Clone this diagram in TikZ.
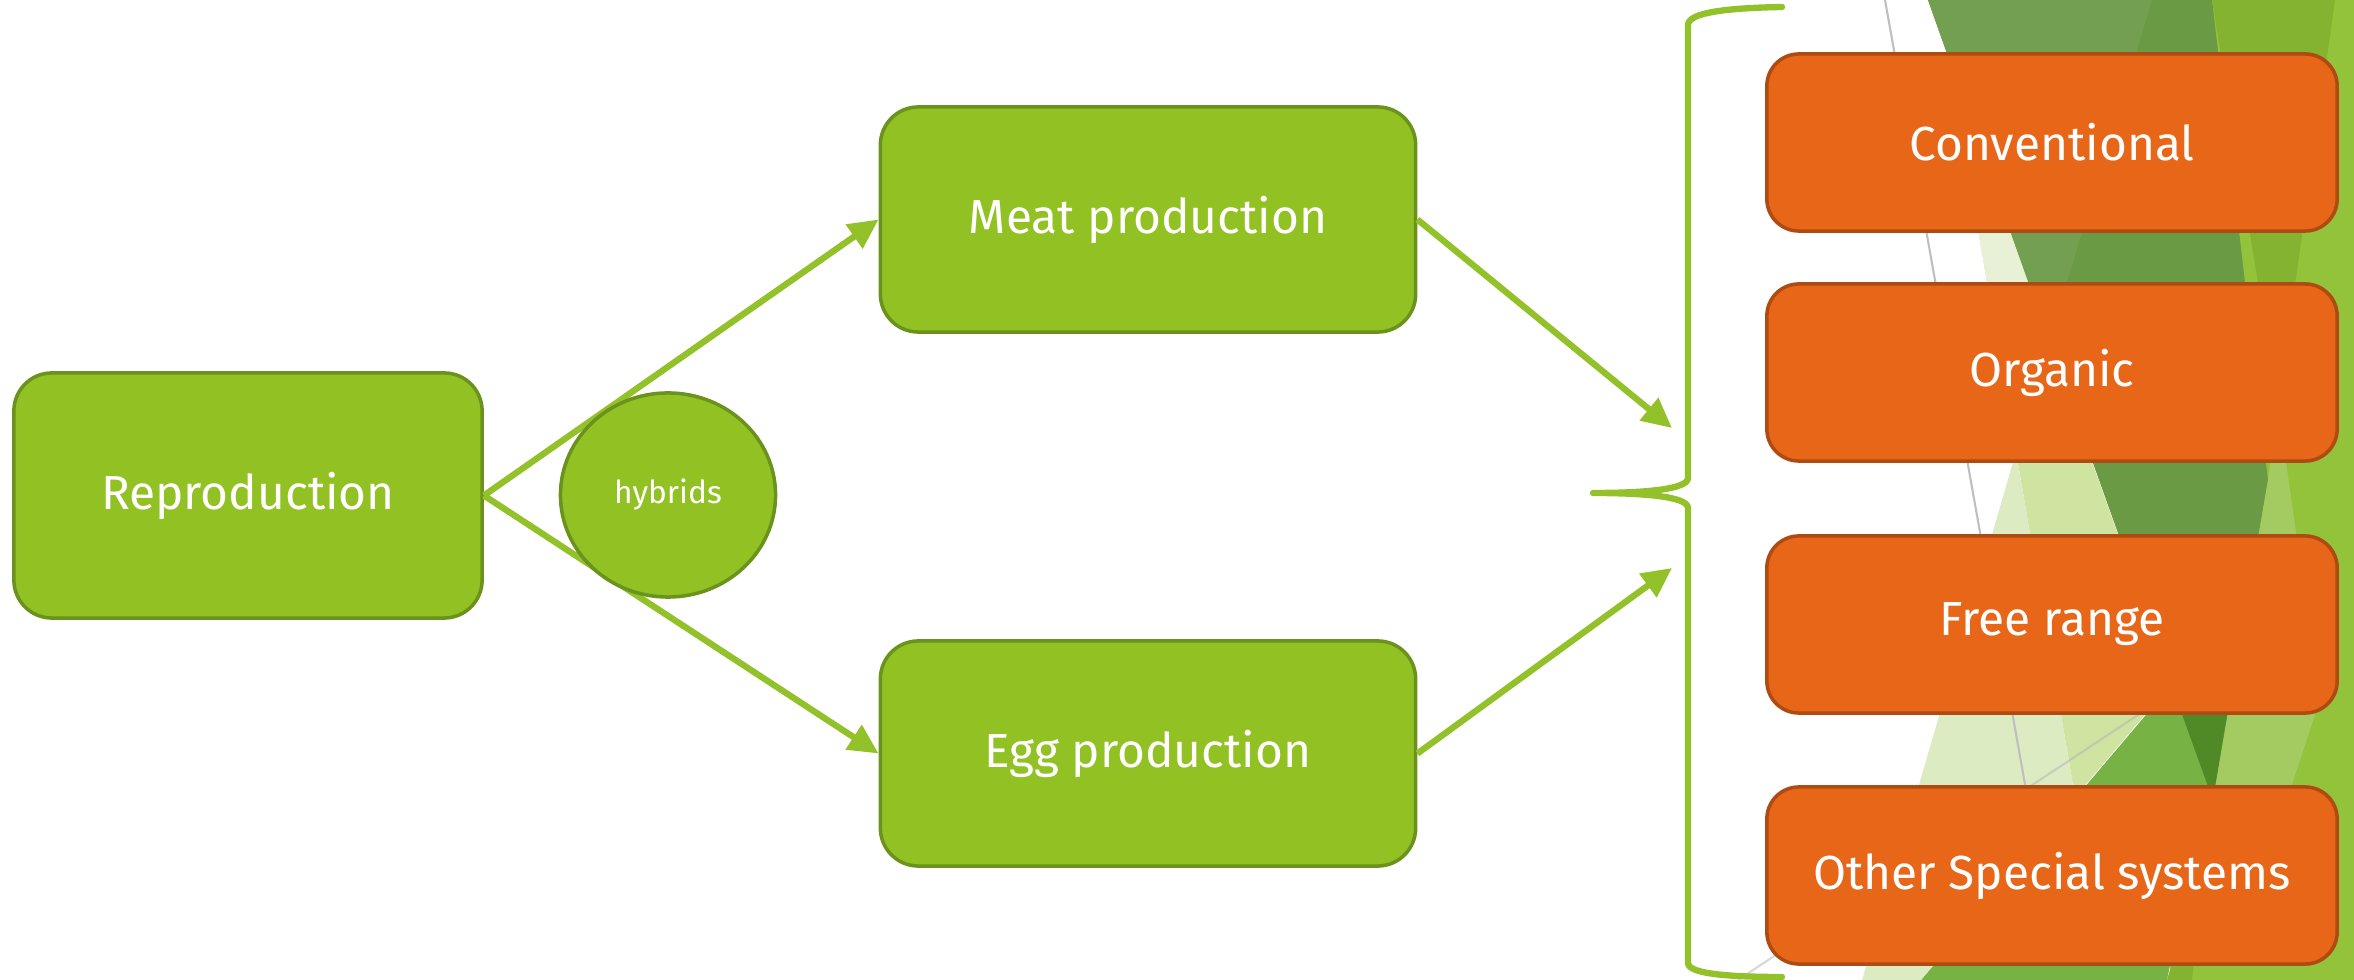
\documentclass[tikz,border=0pt]{standalone}
\usepackage{fontspec}
\setmainfont{Fira Sans}
\usetikzlibrary{arrows.meta,shapes.geometric}

% box and connector colours
\definecolor{leaf}{HTML}{92C123}
\definecolor{leafedge}{HTML}{6B921C}
\definecolor{flow}{HTML}{92C12A}
\definecolor{rust}{HTML}{E76618}
\definecolor{rustedge}{HTML}{AE4B12}
% facets of the background
\definecolor{fa}{HTML}{72A050}
\definecolor{fb}{HTML}{6A9A43}
\definecolor{fc}{HTML}{84B231}
\definecolor{fd}{HTML}{93C33B}
\definecolor{fe}{HTML}{E8F1D6}
\definecolor{ff}{HTML}{DDEBC2}
\definecolor{fg}{HTML}{CFE4A1}
\definecolor{fh}{HTML}{A3CB62}
\definecolor{fi}{HTML}{77B344}
\definecolor{fj}{HTML}{4F8A27}

\tikzset{
  labelfont/.style={font=\fontsize{13.6}{16}\selectfont},
  greenbox/.style={draw=leafedge, fill=leaf, line width=1pt,
    rounded corners=0.38cm, text=white, labelfont, inner sep=0pt},
  rustbox/.style={draw=rustedge, fill=rust, line width=1pt,
    rounded corners=0.32cm, text=white, labelfont, inner sep=0pt,
    minimum width=5.70cm, minimum height=1.77cm},
  flowarrow/.style={draw=flow, line width=1.8pt,
    -{Triangle[length=8.5pt, width=8pt]}},
  bracepen/.style={draw=flow, line width=1.8pt, line cap=round, line join=round},
}

\begin{document}
\begin{tikzpicture}[x=0.01cm, y=-0.01cm]
\useasboundingbox (0,0) rectangle (2354,980);

% faceted backdrop on the right
\begin{scope}
  \clip (0,0) rectangle (2354,980);
  \fill[fd] (2170,0) rectangle (2354,980);
  \fill[fi] (1921,980) -- (2246,597) -- (2167,980) -- cycle;
  \fill[fc] (2167,980) -- (2205,850) -- (2192,980) -- cycle;
  \fill[fb] (1928,0) -- (2212,0) -- (2268,480) -- (2213,800) -- cycle;
  \fill[fj] (2171,684) -- (2246,597) -- (2213,800) -- cycle;
  \fill[fa] (1928,0) -- (2152,0) -- (2049,342) -- cycle;
  \fill[fc] (2212,0) -- (2335,0) -- (2278,406) -- cycle;
  \fill[fh] (2278,406) -- (2320,700) -- (2243,932) -- (2213,800) -- (2268,480) -- cycle;
  \fill[fg] (1949,60) -- (2171,684) -- (2075,797) -- cycle;
  \fill[fe] (1949,60) -- (2059,370) -- (2002,370) -- cycle;
  \fill[ff] (2016,452) -- (2075,797) -- (1921,980) -- (1862,980) -- cycle;
  \draw[line width=0.6pt, black!25] (1885,0) -- (2026,790);
  \draw[line width=0.6pt, black!30, opacity=0.5] (1738,980) -- (2165,697);
\end{scope}

% production chain
\node[greenbox, minimum width=4.68cm, minimum height=2.45cm] (rep) at (248,495.5) {Reproduction};
\node[greenbox, minimum width=5.35cm, minimum height=2.25cm] (meat) at (1148,219.5) {Meat production};
\node[greenbox, minimum width=5.35cm, minimum height=2.25cm] (egg) at (1148,753.5) {Egg production};

% housing systems
\node[rustbox] (conv) at (2052,142.5) {Conventional};
\node[rustbox] (org) at (2052,372.5) {Organic};
\node[rustbox] (free) at (2052,624.5) {Free range};
\node[rustbox] (other) at (2052,875.5) {Other Special systems};

% brace grouping the systems
\draw[bracepen] (1782,7) .. controls (1730,8) and (1688,12) .. (1688,25)
  -- (1688,478) .. controls (1688,490) and (1640,493) .. (1593,493)
  .. controls (1640,493) and (1688,496) .. (1688,508)
  -- (1688,963) .. controls (1688,974) and (1730,977) .. (1782,977);

\coordinate (intoTop) at (1672,428);
\coordinate (intoBot) at (1672,568);

\draw[flowarrow] (rep.east) -- (meat.west);
\draw[flowarrow] (rep.east) -- (egg.west);
\draw[flowarrow] (meat.east) -- (intoTop);
\draw[flowarrow] (egg.east) -- (intoBot);

\node[ellipse, draw=leafedge, fill=leaf, line width=1pt, inner sep=0pt,
  minimum width=2.15cm, minimum height=2.04cm, text=white,
  font=\fontsize{9}{11}\selectfont] (hyb) at (668,495) {hybrids};
\end{tikzpicture}
\end{document}
